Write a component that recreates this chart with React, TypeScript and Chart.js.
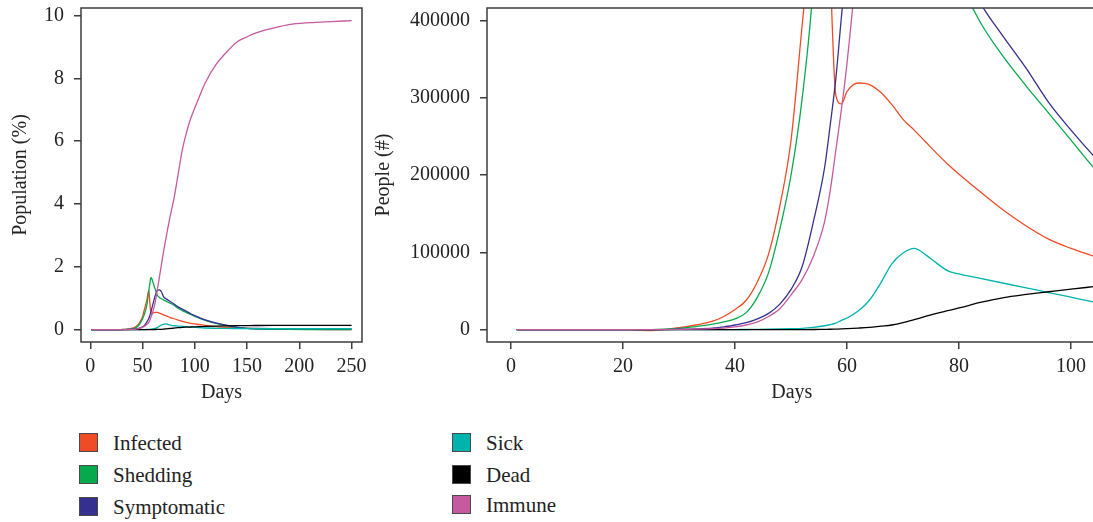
import React, { useEffect, useRef } from "react";
import { Chart, registerables } from "chart.js";

Chart.register(...registerables);

// ---------- data ----------
const POPULATION = 58000000;

const days = [1, 20, 25, 30, 33, 36, 38, 40, 42, 44, 46, 48, 50, 52, 54, 56, 57, 58, 59, 60, 62, 64, 66, 68, 70, 72, 74, 76, 78, 80, 84, 88, 92, 96, 100, 104, 110, 120, 130, 140, 150, 160, 175, 190, 210, 230, 250];

const infected = [0, 0, -1200, 2500, 6000, 11000, 17000, 26000, 38000, 62000, 98000, 160000, 245000, 395000, 540000, 725000, 470000, 303000, 292000, 308000, 319000, 317000, 307000, 291000, 272000, 258000, 243000, 228000, 214000, 201000, 177000, 154000, 134000, 117000, 105000, 95000, 78000, 55000, 40000, 30000, 22000, 16000, 10000, 6000, 3000, 2000, 1000];

const shedding = [0, 0, 0, 1500, 4000, 7000, 10000, 14000, 22000, 42000, 74000, 130000, 200000, 300000, 450000, 730000, 860000, 965000, 930000, 870000, 750000, 640000, 595000, 570000, 550000, 530000, 510000, 492000, 474000, 450000, 395000, 352000, 315000, 280000, 245000, 210000, 170000, 115000, 75000, 42000, 22000, 12000, 6000, 3000, 2000, 1000, 1000];

const symptomatic = [0, 0, 0, 500, 1000, 2000, 3500, 6000, 9000, 14000, 21000, 33000, 52000, 82000, 140000, 210000, 265000, 325000, 405000, 480000, 620000, 720000, 735000, 700000, 610000, 575000, 550000, 525000, 500000, 475000, 420000, 378000, 338000, 294000, 258000, 225000, 180000, 125000, 85000, 45000, 25000, 21000, 20000, 20000, 20000, 20000, 20000];

const sick = [0, 0, 0, 0, 0, 0, 0, 100, 200, 300, 500, 800, 1200, 1700, 3000, 5000, 6500, 8500, 12000, 15000, 24000, 38000, 60000, 85000, 99000, 105000, 97000, 86000, 76000, 72000, 66000, 60000, 54000, 48000, 42000, 36000, 30000, 25000, 22000, 21000, 20000, 20000, 20000, 20000, 20000, 20000, 20000];

const dead = [0, 0, 0, 0, 0, 0, 0, 0, 0, 0, 0, 0, 0, 100, 200, 400, 500, 700, 900, 1200, 2000, 3000, 4500, 6000, 9000, 13000, 17000, 21000, 24500, 28000, 35500, 41500, 45500, 49000, 52500, 55500, 60000, 66000, 70000, 73000, 75000, 76000, 77000, 77500, 78000, 78000, 78000];

const immune = [0, 0, 0, 300, 600, 1200, 2000, 3500, 6000, 10000, 17000, 27000, 45000, 65000, 95000, 140000, 180000, 232000, 285000, 345000, 500000, 730000, 960000, 1200000, 1440000, 1650000, 1860000, 2060000, 2240000, 2420000, 2870000, 3320000, 3640000, 3900000, 4100000, 4290000, 4560000, 4890000, 5120000, 5310000, 5410000, 5490000, 5570000, 5635000, 5670000, 5690000, 5707000];

const seriesNames = ["Infected", "Shedding", "Symptomatic", "Sick", "Dead", "Immune"];
const seriesValues = [infected, shedding, symptomatic, sick, dead, immune];
const seriesColors = ["#EF4B26", "#07A94D", "#35308F", "#00B3AD", "#000000", "#C7599F"];

const leftXTicks = [0, 50, 100, 150, 200, 250];
const leftYTicks = [0, 2, 4, 6, 8, 10];
const rightXTicks = [0, 20, 40, 60, 80, 100];
const rightYTicks = [0, 100000, 200000, 300000, 400000];

// ---------- styling ----------
const FONT = "'Liberation Serif', 'Times New Roman', serif";
const AXIS = "#3d3d3d";
const TEXT = "#232323";

const boxPlugin = {
  id: "rbox",
  afterDraw(chart: any) {
    const { ctx, chartArea } = chart;
    const { left, top, right, bottom } = chartArea;
    ctx.save();
    ctx.strokeStyle = AXIS;
    ctx.lineWidth = 1.5;
    ctx.strokeRect(left, top, right - left, bottom - top);
    ctx.restore();
  },
};

function makeConfig(o: any) {
  const datasets = seriesNames.map((name, i) => ({
    label: name,
    data: days.map((d, j) => ({ x: d, y: seriesValues[i][j] * o.factor })),
    borderColor: seriesColors[i],
    backgroundColor: seriesColors[i],
    borderWidth: 1.3,
    pointRadius: 0,
    cubicInterpolationMode: "monotone",
    fill: false,
    order: seriesNames.length - i,
  }));
  const gridOpts = {
    display: true,
    drawOnChartArea: false,
    drawTicks: true,
    tickLength: 7,
    color: AXIS,
    lineWidth: 1.5,
  };
  return {
    type: "line",
    data: { datasets },
    plugins: [boxPlugin],
    options: {
      animation: false,
      responsive: false,
      events: [],
      layout: { padding: o.padding },
      plugins: { legend: { display: false }, tooltip: { enabled: false } },
      scales: {
        x: {
          type: "linear",
          min: o.xMin,
          max: o.xMax,
          afterBuildTicks: (s: any) => {
            s.ticks = o.xTicks.map((v: number) => ({ value: v }));
          },
          afterFit: (s: any) => {
            s.height = o.xHeight;
            s.paddingLeft = 0;
            s.paddingRight = 0;
          },
          grid: gridOpts,
          border: { display: false },
          ticks: {
            font: { family: FONT, size: 20 },
            color: TEXT,
            padding: 6,
            maxRotation: 0,
            autoSkip: false,
            callback: (v: any) => String(v),
          },
          title: {
            display: true,
            text: "Days",
            font: { family: FONT, size: 20 },
            color: TEXT,
            padding: { top: 0, bottom: 15 },
          },
        },
        y: {
          type: "linear",
          min: o.yMin,
          max: o.yMax,
          afterBuildTicks: (s: any) => {
            s.ticks = o.yTicks.map((v: number) => ({ value: v }));
          },
          afterFit: (s: any) => {
            s.width = o.yWidth;
            s.paddingTop = 0;
            s.paddingBottom = 0;
          },
          grid: gridOpts,
          border: { display: false },
          ticks: {
            font: { family: FONT, size: 20 },
            color: TEXT,
            padding: 10,
            autoSkip: false,
            callback: (v: any) => String(v),
          },
          title: {
            display: true,
            text: o.yTitle,
            font: { family: FONT, size: 20 },
            color: TEXT,
            padding: { top: o.yTitlePad, bottom: 0 },
          },
        },
      },
    },
  };
}

const legendLeftRows = [433, 465, 497];
const legendRightRows = [433, 465, 495];

function LegendItem({ idx, x, top }: { idx: number; x: number; top: number }) {
  return (
    <>
      <div
        style={{
          position: "absolute",
          left: x,
          top: top,
          width: 17,
          height: 17,
          border: "1px solid #4a4a4a",
          background: seriesColors[idx],
        }}
      />
      <span
        style={{
          position: "absolute",
          left: x + 34,
          top: top,
          fontFamily: FONT,
          fontSize: 21,
          lineHeight: "21px",
          color: TEXT,
          whiteSpace: "nowrap",
        }}
      >
        {seriesNames[idx]}
      </span>
    </>
  );
}

export default function App() {
  const leftRef = useRef<HTMLCanvasElement>(null);
  const rightRef = useRef<HTMLCanvasElement>(null);

  useEffect(() => {
    const left = new Chart(
      leftRef.current as HTMLCanvasElement,
      makeConfig({
        factor: 100 / POPULATION,
        xMin: -8.96,
        xMax: 259.96,
        yMin: -0.394,
        yMax: 10.244,
        xTicks: leftXTicks,
        yTicks: leftYTicks,
        yTitle: "Population (%)",
        yWidth: 81,
        xHeight: 78,
        yTitlePad: 9,
        padding: { left: 0, top: 8, right: 8, bottom: 0 },
      }) as any
    );
    const right = new Chart(
      rightRef.current as HTMLCanvasElement,
      makeConfig({
        factor: 1,
        xMin: -4.3,
        xMax: 104.55,
        yMin: -16000,
        yMax: 416000,
        xTicks: rightXTicks,
        yTicks: rightYTicks,
        yTitle: "People (#)",
        yWidth: 117,
        xHeight: 78,
        yTitlePad: 2,
        padding: { left: 0, top: 8, right: 3.5, bottom: 0 },
      }) as any
    );
    return () => {
      left.destroy();
      right.destroy();
    };
  }, []);

  return (
    <div
      style={{
        position: "absolute",
        left: 0,
        top: 0,
        width: 1093,
        height: 522,
        overflow: "hidden",
        background: "#ffffff",
      }}
    >
      <canvas
        ref={leftRef}
        width={370}
        height={420}
        style={{ position: "absolute", left: 0, top: 0, width: 370, height: 420 }}
      />
      <canvas
        ref={rightRef}
        width={730}
        height={420}
        style={{ position: "absolute", left: 370, top: 0, width: 730, height: 420 }}
      />
      {[0, 1, 2].map((k) => (
        <LegendItem key={"l" + k} idx={k} x={79} top={legendLeftRows[k]} />
      ))}
      {[3, 4, 5].map((k) => (
        <LegendItem key={"r" + k} idx={k} x={452} top={legendRightRows[k - 3]} />
      ))}
    </div>
  );
}
